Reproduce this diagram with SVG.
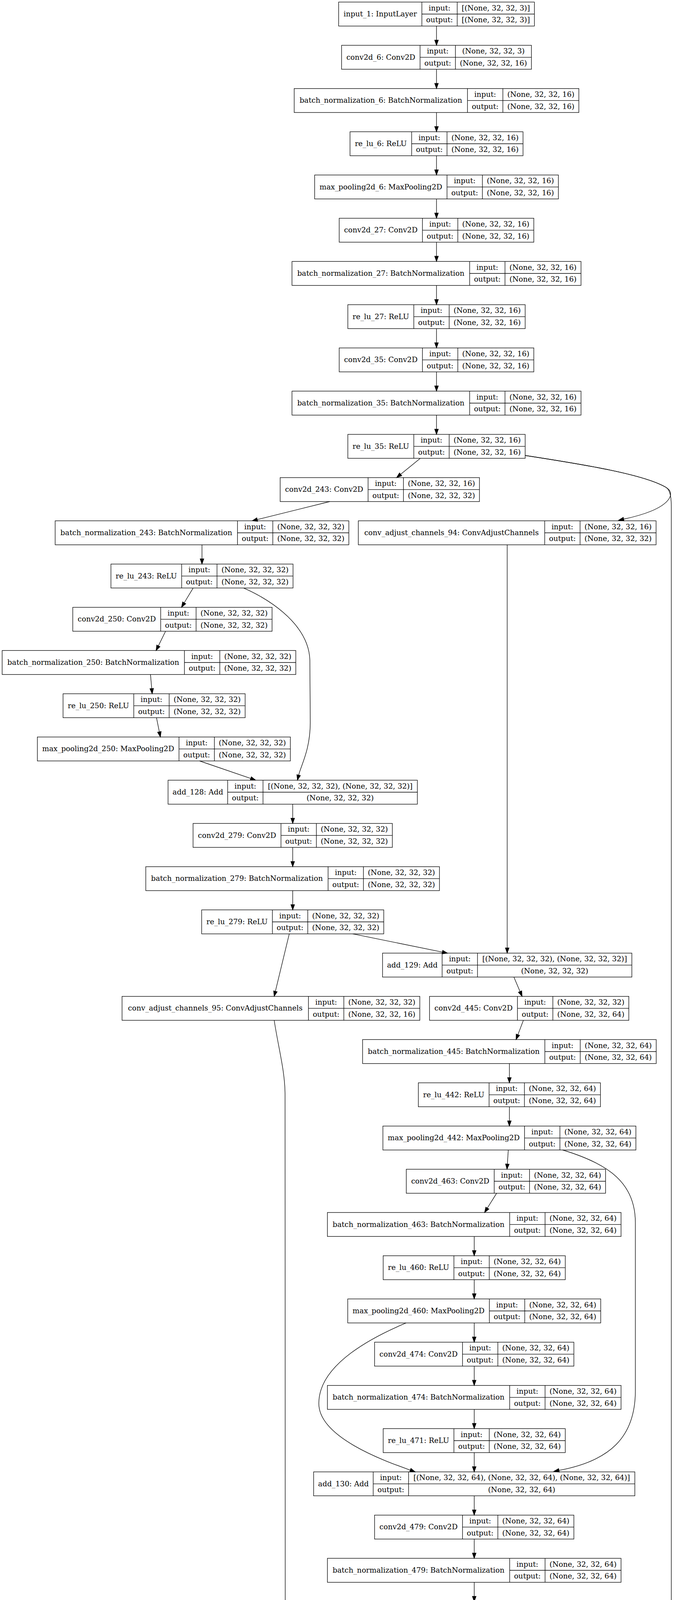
<svg xmlns="http://www.w3.org/2000/svg" width="1730" height="5496" viewBox="0 0 1730 5496">
<style>
.n rect{fill:none;stroke:#000;stroke-width:1.33}
.n line{stroke:#000;stroke-width:1.33}
text{font-family:"DejaVu Serif","Liberation Serif",serif;font-size:18.67px;text-anchor:middle;fill:#000}
.e path{fill:none;stroke:#000;stroke-width:1.33;marker-end:url(#a)}
</style>
<defs>
<marker id="a" markerUnits="userSpaceOnUse" markerWidth="16" markerHeight="12" viewBox="0 -6 16 12" refX="0" refY="0" orient="auto" overflow="visible">
<path d="M0,-4.67 L13.33,0 L0,4.67 Z" fill="#000" stroke="#000" stroke-width="1.33"/>
</marker>
</defs>
<rect x="0" y="0" width="1730" height="5496" fill="#fff"/>

<g id="input_1" class="n" transform="translate(0,5.33)"><rect x="866.6" y="0" width="501" height="61.33"/><line x1="1079.6" y1="0" x2="1079.6" y2="61.33"/><line x1="1170.1" y1="0" x2="1170.1" y2="61.33"/><line x1="1079.6" y1="30.67" x2="1367.6" y2="30.67"/><text x="973.1" y="36.67">input_1: InputLayer</text><text x="1124.85" y="21.33">input:</text><text x="1124.85" y="52">output:</text><text x="1268.85" y="21.33">[(None, 32, 32, 3)]</text><text x="1268.85" y="52">[(None, 32, 32, 3)]</text></g>

<g id="conv2d_6" class="n" transform="translate(0,116)"><rect x="874.2" y="0" width="485.8" height="61.33"/><line x1="1075" y1="0" x2="1075" y2="61.33"/><line x1="1165.5" y1="0" x2="1165.5" y2="61.33"/><line x1="1075" y1="30.67" x2="1360" y2="30.67"/><text x="974.6" y="36.67">conv2d_6: Conv2D</text><text x="1120.25" y="21.33">input:</text><text x="1120.25" y="52">output:</text><text x="1262.75" y="21.33">(None, 32, 32, 3)</text><text x="1262.75" y="52">(None, 32, 32, 16)</text></g>

<g id="batch_normalization_6" class="n" transform="translate(0,226.67)"><rect x="752.9" y="0" width="728.5" height="61.33"/><line x1="1196.4" y1="0" x2="1196.4" y2="61.33"/><line x1="1286.9" y1="0" x2="1286.9" y2="61.33"/><line x1="1196.4" y1="30.67" x2="1481.4" y2="30.67"/><text x="974.65" y="36.67">batch_normalization_6: BatchNormalization</text><text x="1241.65" y="21.33">input:</text><text x="1241.65" y="52">output:</text><text x="1384.15" y="21.33">(None, 32, 32, 16)</text><text x="1384.15" y="52">(None, 32, 32, 16)</text></g>

<g id="re_lu_6" class="n" transform="translate(0,337.33)"><rect x="895.7" y="0" width="442.8" height="61.33"/><line x1="1053.5" y1="0" x2="1053.5" y2="61.33"/><line x1="1144" y1="0" x2="1144" y2="61.33"/><line x1="1053.5" y1="30.67" x2="1338.5" y2="30.67"/><text x="974.6" y="36.67">re_lu_6: ReLU</text><text x="1098.75" y="21.33">input:</text><text x="1098.75" y="52">output:</text><text x="1241.25" y="21.33">(None, 32, 32, 16)</text><text x="1241.25" y="52">(None, 32, 32, 16)</text></g>

<g id="max_pooling2d_6" class="n" transform="translate(0,448)"><rect x="805.3" y="0" width="623.7" height="61.33"/><line x1="1144" y1="0" x2="1144" y2="61.33"/><line x1="1234.5" y1="0" x2="1234.5" y2="61.33"/><line x1="1144" y1="30.67" x2="1429" y2="30.67"/><text x="974.65" y="36.67">max_pooling2d_6: MaxPooling2D</text><text x="1189.25" y="21.33">input:</text><text x="1189.25" y="52">output:</text><text x="1331.75" y="21.33">(None, 32, 32, 16)</text><text x="1331.75" y="52">(None, 32, 32, 16)</text></g>

<g id="conv2d_27" class="n" transform="translate(0,558.67)"><rect x="868.1" y="0" width="498" height="61.33"/><line x1="1081.1" y1="0" x2="1081.1" y2="61.33"/><line x1="1171.6" y1="0" x2="1171.6" y2="61.33"/><line x1="1081.1" y1="30.67" x2="1366.1" y2="30.67"/><text x="974.6" y="36.67">conv2d_27: Conv2D</text><text x="1126.35" y="21.33">input:</text><text x="1126.35" y="52">output:</text><text x="1268.85" y="21.33">(None, 32, 32, 16)</text><text x="1268.85" y="52">(None, 32, 32, 16)</text></g>

<g id="batch_normalization_27" class="n" transform="translate(0,669.33)"><rect x="747.3" y="0" width="739.6" height="61.33"/><line x1="1201.9" y1="0" x2="1201.9" y2="61.33"/><line x1="1292.4" y1="0" x2="1292.4" y2="61.33"/><line x1="1201.9" y1="30.67" x2="1486.9" y2="30.67"/><text x="974.6" y="36.67">batch_normalization_27: BatchNormalization</text><text x="1247.15" y="21.33">input:</text><text x="1247.15" y="52">output:</text><text x="1389.65" y="21.33">(None, 32, 32, 16)</text><text x="1389.65" y="52">(None, 32, 32, 16)</text></g>

<g id="re_lu_27" class="n" transform="translate(0,780)"><rect x="890.2" y="0" width="453.8" height="61.33"/><line x1="1059" y1="0" x2="1059" y2="61.33"/><line x1="1149.5" y1="0" x2="1149.5" y2="61.33"/><line x1="1059" y1="30.67" x2="1344" y2="30.67"/><text x="974.6" y="36.67">re_lu_27: ReLU</text><text x="1104.25" y="21.33">input:</text><text x="1104.25" y="52">output:</text><text x="1246.75" y="21.33">(None, 32, 32, 16)</text><text x="1246.75" y="52">(None, 32, 32, 16)</text></g>

<g id="conv2d_35" class="n" transform="translate(0,890.67)"><rect x="868.1" y="0" width="498" height="61.33"/><line x1="1081.1" y1="0" x2="1081.1" y2="61.33"/><line x1="1171.6" y1="0" x2="1171.6" y2="61.33"/><line x1="1081.1" y1="30.67" x2="1366.1" y2="30.67"/><text x="974.6" y="36.67">conv2d_35: Conv2D</text><text x="1126.35" y="21.33">input:</text><text x="1126.35" y="52">output:</text><text x="1268.85" y="21.33">(None, 32, 32, 16)</text><text x="1268.85" y="52">(None, 32, 32, 16)</text></g>

<g id="batch_normalization_35" class="n" transform="translate(0,1001.33)"><rect x="747.3" y="0" width="739.6" height="61.33"/><line x1="1201.9" y1="0" x2="1201.9" y2="61.33"/><line x1="1292.4" y1="0" x2="1292.4" y2="61.33"/><line x1="1201.9" y1="30.67" x2="1486.9" y2="30.67"/><text x="974.6" y="36.67">batch_normalization_35: BatchNormalization</text><text x="1247.15" y="21.33">input:</text><text x="1247.15" y="52">output:</text><text x="1389.65" y="21.33">(None, 32, 32, 16)</text><text x="1389.65" y="52">(None, 32, 32, 16)</text></g>

<g id="re_lu_35" class="n" transform="translate(0,1112)"><rect x="890.2" y="0" width="453.8" height="61.33"/><line x1="1059" y1="0" x2="1059" y2="61.33"/><line x1="1149.5" y1="0" x2="1149.5" y2="61.33"/><line x1="1059" y1="30.67" x2="1344" y2="30.67"/><text x="974.6" y="36.67">re_lu_35: ReLU</text><text x="1104.25" y="21.33">input:</text><text x="1104.25" y="52">output:</text><text x="1246.75" y="21.33">(None, 32, 32, 16)</text><text x="1246.75" y="52">(None, 32, 32, 16)</text></g>

<g id="conv2d_243" class="n" transform="translate(0,1222.67)"><rect x="717" y="0" width="510" height="61.33"/><line x1="942" y1="0" x2="942" y2="61.33"/><line x1="1032.5" y1="0" x2="1032.5" y2="61.33"/><line x1="942" y1="30.67" x2="1227" y2="30.67"/><text x="829.5" y="36.67">conv2d_243: Conv2D</text><text x="987.25" y="21.33">input:</text><text x="987.25" y="52">output:</text><text x="1129.75" y="21.33">(None, 32, 32, 16)</text><text x="1129.75" y="52">(None, 32, 32, 32)</text></g>

<g id="batch_normalization_243" class="n" transform="translate(0,1333.33)"><rect x="141.2" y="0" width="751.5" height="61.33"/><line x1="607.7" y1="0" x2="607.7" y2="61.33"/><line x1="698.2" y1="0" x2="698.2" y2="61.33"/><line x1="607.7" y1="30.67" x2="892.7" y2="30.67"/><text x="374.45" y="36.67">batch_normalization_243: BatchNormalization</text><text x="652.95" y="21.33">input:</text><text x="652.95" y="52">output:</text><text x="795.45" y="21.33">(None, 32, 32, 32)</text><text x="795.45" y="52">(None, 32, 32, 32)</text></g>

<g id="conv_adjust_channels_94" class="n" transform="translate(0,1333.33)"><rect x="917" y="0" width="762" height="61.33"/><line x1="1394" y1="0" x2="1394" y2="61.33"/><line x1="1484.5" y1="0" x2="1484.5" y2="61.33"/><line x1="1394" y1="30.67" x2="1679" y2="30.67"/><text x="1155.5" y="36.67">conv_adjust_channels_94: ConvAdjustChannels</text><text x="1439.25" y="21.33">input:</text><text x="1439.25" y="52">output:</text><text x="1581.75" y="21.33">(None, 32, 32, 16)</text><text x="1581.75" y="52">(None, 32, 32, 32)</text></g>

<g id="re_lu_243" class="n" transform="translate(0,1444)"><rect x="283.9" y="0" width="466" height="61.33"/><line x1="464.9" y1="0" x2="464.9" y2="61.33"/><line x1="555.4" y1="0" x2="555.4" y2="61.33"/><line x1="464.9" y1="30.67" x2="749.9" y2="30.67"/><text x="374.4" y="36.67">re_lu_243: ReLU</text><text x="510.15" y="21.33">input:</text><text x="510.15" y="52">output:</text><text x="652.65" y="21.33">(None, 32, 32, 32)</text><text x="652.65" y="52">(None, 32, 32, 32)</text></g>

<g id="conv2d_250" class="n" transform="translate(0,1554.67)"><rect x="186.3" y="0" width="510" height="61.33"/><line x1="411.3" y1="0" x2="411.3" y2="61.33"/><line x1="501.8" y1="0" x2="501.8" y2="61.33"/><line x1="411.3" y1="30.67" x2="696.3" y2="30.67"/><text x="298.8" y="36.67">conv2d_250: Conv2D</text><text x="456.55" y="21.33">input:</text><text x="456.55" y="52">output:</text><text x="599.05" y="21.33">(None, 32, 32, 32)</text><text x="599.05" y="52">(None, 32, 32, 32)</text></g>

<g id="batch_normalization_250" class="n" transform="translate(0,1665.33)"><rect x="5.5" y="0" width="751.5" height="61.33"/><line x1="472" y1="0" x2="472" y2="61.33"/><line x1="562.5" y1="0" x2="562.5" y2="61.33"/><line x1="472" y1="30.67" x2="757" y2="30.67"/><text x="238.75" y="36.67">batch_normalization_250: BatchNormalization</text><text x="517.25" y="21.33">input:</text><text x="517.25" y="52">output:</text><text x="659.75" y="21.33">(None, 32, 32, 32)</text><text x="659.75" y="52">(None, 32, 32, 32)</text></g>

<g id="re_lu_250" class="n" transform="translate(0,1776)"><rect x="161.4" y="0" width="466" height="61.33"/><line x1="342.4" y1="0" x2="342.4" y2="61.33"/><line x1="432.9" y1="0" x2="432.9" y2="61.33"/><line x1="342.4" y1="30.67" x2="627.4" y2="30.67"/><text x="251.9" y="36.67">re_lu_250: ReLU</text><text x="387.65" y="21.33">input:</text><text x="387.65" y="52">output:</text><text x="530.15" y="21.33">(None, 32, 32, 32)</text><text x="530.15" y="52">(None, 32, 32, 32)</text></g>

<g id="max_pooling2d_250" class="n" transform="translate(0,1886.67)"><rect x="95.6" y="0" width="647.5" height="61.33"/><line x1="458.1" y1="0" x2="458.1" y2="61.33"/><line x1="548.6" y1="0" x2="548.6" y2="61.33"/><line x1="458.1" y1="30.67" x2="743.1" y2="30.67"/><text x="276.85" y="36.67">max_pooling2d_250: MaxPooling2D</text><text x="503.35" y="21.33">input:</text><text x="503.35" y="52">output:</text><text x="645.85" y="21.33">(None, 32, 32, 32)</text><text x="645.85" y="52">(None, 32, 32, 32)</text></g>

<g id="add_128" class="n" transform="translate(0,1997.33)"><rect x="430.1" y="0" width="638" height="61.33"/><line x1="582.6" y1="0" x2="582.6" y2="61.33"/><line x1="673.1" y1="0" x2="673.1" y2="61.33"/><line x1="582.6" y1="30.67" x2="1068.1" y2="30.67"/><text x="506.35" y="36.67">add_128: Add</text><text x="627.85" y="21.33">input:</text><text x="627.85" y="52">output:</text><text x="870.6" y="21.33">[(None, 32, 32, 32), (None, 32, 32, 32)]</text><text x="870.6" y="52">(None, 32, 32, 32)</text></g>

<g id="conv2d_279" class="n" transform="translate(0,2108)"><rect x="494.1" y="0" width="510" height="61.33"/><line x1="719.1" y1="0" x2="719.1" y2="61.33"/><line x1="809.6" y1="0" x2="809.6" y2="61.33"/><line x1="719.1" y1="30.67" x2="1004.1" y2="30.67"/><text x="606.6" y="36.67">conv2d_279: Conv2D</text><text x="764.35" y="21.33">input:</text><text x="764.35" y="52">output:</text><text x="906.85" y="21.33">(None, 32, 32, 32)</text><text x="906.85" y="52">(None, 32, 32, 32)</text></g>

<g id="batch_normalization_279" class="n" transform="translate(0,2218.67)"><rect x="373.1" y="0" width="751.5" height="61.33"/><line x1="839.6" y1="0" x2="839.6" y2="61.33"/><line x1="930.1" y1="0" x2="930.1" y2="61.33"/><line x1="839.6" y1="30.67" x2="1124.6" y2="30.67"/><text x="606.35" y="36.67">batch_normalization_279: BatchNormalization</text><text x="884.85" y="21.33">input:</text><text x="884.85" y="52">output:</text><text x="1027.35" y="21.33">(None, 32, 32, 32)</text><text x="1027.35" y="52">(None, 32, 32, 32)</text></g>

<g id="re_lu_279" class="n" transform="translate(0,2329.33)"><rect x="516.1" y="0" width="466" height="61.33"/><line x1="697.1" y1="0" x2="697.1" y2="61.33"/><line x1="787.6" y1="0" x2="787.6" y2="61.33"/><line x1="697.1" y1="30.67" x2="982.1" y2="30.67"/><text x="606.6" y="36.67">re_lu_279: ReLU</text><text x="742.35" y="21.33">input:</text><text x="742.35" y="52">output:</text><text x="884.85" y="21.33">(None, 32, 32, 32)</text><text x="884.85" y="52">(None, 32, 32, 32)</text></g>

<g id="add_129" class="n" transform="translate(0,2440)"><rect x="979" y="0" width="638" height="61.33"/><line x1="1131.5" y1="0" x2="1131.5" y2="61.33"/><line x1="1222" y1="0" x2="1222" y2="61.33"/><line x1="1131.5" y1="30.67" x2="1617" y2="30.67"/><text x="1055.25" y="36.67">add_129: Add</text><text x="1176.75" y="21.33">input:</text><text x="1176.75" y="52">output:</text><text x="1419.5" y="21.33">[(None, 32, 32, 32), (None, 32, 32, 32)]</text><text x="1419.5" y="52">(None, 32, 32, 32)</text></g>

<g id="conv_adjust_channels_95" class="n" transform="translate(0,2550.67)"><rect x="312.4" y="0" width="762" height="61.33"/><line x1="789.4" y1="0" x2="789.4" y2="61.33"/><line x1="879.9" y1="0" x2="879.9" y2="61.33"/><line x1="789.4" y1="30.67" x2="1074.4" y2="30.67"/><text x="550.9" y="36.67">conv_adjust_channels_95: ConvAdjustChannels</text><text x="834.65" y="21.33">input:</text><text x="834.65" y="52">output:</text><text x="977.15" y="21.33">(None, 32, 32, 32)</text><text x="977.15" y="52">(None, 32, 32, 16)</text></g>

<g id="conv2d_445" class="n" transform="translate(0,2550.67)"><rect x="1099.3" y="0" width="510" height="61.33"/><line x1="1324.3" y1="0" x2="1324.3" y2="61.33"/><line x1="1414.8" y1="0" x2="1414.8" y2="61.33"/><line x1="1324.3" y1="30.67" x2="1609.3" y2="30.67"/><text x="1211.8" y="36.67">conv2d_445: Conv2D</text><text x="1369.55" y="21.33">input:</text><text x="1369.55" y="52">output:</text><text x="1512.05" y="21.33">(None, 32, 32, 32)</text><text x="1512.05" y="52">(None, 32, 32, 64)</text></g>

<g id="batch_normalization_445" class="n" transform="translate(0,2661.33)"><rect x="927.9" y="0" width="751.5" height="61.33"/><line x1="1394.4" y1="0" x2="1394.4" y2="61.33"/><line x1="1484.9" y1="0" x2="1484.9" y2="61.33"/><line x1="1394.4" y1="30.67" x2="1679.4" y2="30.67"/><text x="1161.15" y="36.67">batch_normalization_445: BatchNormalization</text><text x="1439.65" y="21.33">input:</text><text x="1439.65" y="52">output:</text><text x="1582.15" y="21.33">(None, 32, 32, 64)</text><text x="1582.15" y="52">(None, 32, 32, 64)</text></g>

<g id="re_lu_442" class="n" transform="translate(0,2772)"><rect x="1070.6" y="0" width="466" height="61.33"/><line x1="1251.6" y1="0" x2="1251.6" y2="61.33"/><line x1="1342.1" y1="0" x2="1342.1" y2="61.33"/><line x1="1251.6" y1="30.67" x2="1536.6" y2="30.67"/><text x="1161.1" y="36.67">re_lu_442: ReLU</text><text x="1296.85" y="21.33">input:</text><text x="1296.85" y="52">output:</text><text x="1439.35" y="21.33">(None, 32, 32, 64)</text><text x="1439.35" y="52">(None, 32, 32, 64)</text></g>

<g id="max_pooling2d_442" class="n" transform="translate(0,2882.67)"><rect x="979.9" y="0" width="647.5" height="61.33"/><line x1="1342.4" y1="0" x2="1342.4" y2="61.33"/><line x1="1432.9" y1="0" x2="1432.9" y2="61.33"/><line x1="1342.4" y1="30.67" x2="1627.4" y2="30.67"/><text x="1161.15" y="36.67">max_pooling2d_442: MaxPooling2D</text><text x="1387.65" y="21.33">input:</text><text x="1387.65" y="52">output:</text><text x="1530.15" y="21.33">(None, 32, 32, 64)</text><text x="1530.15" y="52">(None, 32, 32, 64)</text></g>

<g id="conv2d_463" class="n" transform="translate(0,2993.33)"><rect x="1039.7" y="0" width="510" height="61.33"/><line x1="1264.7" y1="0" x2="1264.7" y2="61.33"/><line x1="1355.2" y1="0" x2="1355.2" y2="61.33"/><line x1="1264.7" y1="30.67" x2="1549.7" y2="30.67"/><text x="1152.2" y="36.67">conv2d_463: Conv2D</text><text x="1309.95" y="21.33">input:</text><text x="1309.95" y="52">output:</text><text x="1452.45" y="21.33">(None, 32, 32, 64)</text><text x="1452.45" y="52">(None, 32, 32, 64)</text></g>

<g id="batch_normalization_463" class="n" transform="translate(0,3104)"><rect x="837.9" y="0" width="751.5" height="61.33"/><line x1="1304.4" y1="0" x2="1304.4" y2="61.33"/><line x1="1394.9" y1="0" x2="1394.9" y2="61.33"/><line x1="1304.4" y1="30.67" x2="1589.4" y2="30.67"/><text x="1071.15" y="36.67">batch_normalization_463: BatchNormalization</text><text x="1349.65" y="21.33">input:</text><text x="1349.65" y="52">output:</text><text x="1492.15" y="21.33">(None, 32, 32, 64)</text><text x="1492.15" y="52">(None, 32, 32, 64)</text></g>

<g id="re_lu_460" class="n" transform="translate(0,3214.67)"><rect x="980.6" y="0" width="466" height="61.33"/><line x1="1161.6" y1="0" x2="1161.6" y2="61.33"/><line x1="1252.1" y1="0" x2="1252.1" y2="61.33"/><line x1="1161.6" y1="30.67" x2="1446.6" y2="30.67"/><text x="1071.1" y="36.67">re_lu_460: ReLU</text><text x="1206.85" y="21.33">input:</text><text x="1206.85" y="52">output:</text><text x="1349.35" y="21.33">(None, 32, 32, 64)</text><text x="1349.35" y="52">(None, 32, 32, 64)</text></g>

<g id="max_pooling2d_460" class="n" transform="translate(0,3325.33)"><rect x="889.9" y="0" width="647.5" height="61.33"/><line x1="1252.4" y1="0" x2="1252.4" y2="61.33"/><line x1="1342.9" y1="0" x2="1342.9" y2="61.33"/><line x1="1252.4" y1="30.67" x2="1537.4" y2="30.67"/><text x="1071.15" y="36.67">max_pooling2d_460: MaxPooling2D</text><text x="1297.65" y="21.33">input:</text><text x="1297.65" y="52">output:</text><text x="1440.15" y="21.33">(None, 32, 32, 64)</text><text x="1440.15" y="52">(None, 32, 32, 64)</text></g>

<g id="conv2d_474" class="n" transform="translate(0,3436)"><rect x="958.6" y="0" width="510" height="61.33"/><line x1="1183.6" y1="0" x2="1183.6" y2="61.33"/><line x1="1274.1" y1="0" x2="1274.1" y2="61.33"/><line x1="1183.6" y1="30.67" x2="1468.6" y2="30.67"/><text x="1071.1" y="36.67">conv2d_474: Conv2D</text><text x="1228.85" y="21.33">input:</text><text x="1228.85" y="52">output:</text><text x="1371.35" y="21.33">(None, 32, 32, 64)</text><text x="1371.35" y="52">(None, 32, 32, 64)</text></g>

<g id="batch_normalization_474" class="n" transform="translate(0,3546.67)"><rect x="837.9" y="0" width="751.5" height="61.33"/><line x1="1304.4" y1="0" x2="1304.4" y2="61.33"/><line x1="1394.9" y1="0" x2="1394.9" y2="61.33"/><line x1="1304.4" y1="30.67" x2="1589.4" y2="30.67"/><text x="1071.15" y="36.67">batch_normalization_474: BatchNormalization</text><text x="1349.65" y="21.33">input:</text><text x="1349.65" y="52">output:</text><text x="1492.15" y="21.33">(None, 32, 32, 64)</text><text x="1492.15" y="52">(None, 32, 32, 64)</text></g>

<g id="re_lu_471" class="n" transform="translate(0,3657.33)"><rect x="980.6" y="0" width="466" height="61.33"/><line x1="1161.6" y1="0" x2="1161.6" y2="61.33"/><line x1="1252.1" y1="0" x2="1252.1" y2="61.33"/><line x1="1161.6" y1="30.67" x2="1446.6" y2="30.67"/><text x="1071.1" y="36.67">re_lu_471: ReLU</text><text x="1206.85" y="21.33">input:</text><text x="1206.85" y="52">output:</text><text x="1349.35" y="21.33">(None, 32, 32, 64)</text><text x="1349.35" y="52">(None, 32, 32, 64)</text></g>

<g id="add_130" class="n" transform="translate(0,3768)"><rect x="802.6" y="0" width="822" height="61.33"/><line x1="955.1" y1="0" x2="955.1" y2="61.33"/><line x1="1045.6" y1="0" x2="1045.6" y2="61.33"/><line x1="955.1" y1="30.67" x2="1624.6" y2="30.67"/><text x="878.85" y="36.67">add_130: Add</text><text x="1000.35" y="21.33">input:</text><text x="1000.35" y="52">output:</text><text x="1335.1" y="21.33">[(None, 32, 32, 64), (None, 32, 32, 64), (None, 32, 32, 64)]</text><text x="1335.1" y="52">(None, 32, 32, 64)</text></g>

<g id="conv2d_479" class="n" transform="translate(0,3878.67)"><rect x="958.6" y="0" width="510" height="61.33"/><line x1="1183.6" y1="0" x2="1183.6" y2="61.33"/><line x1="1274.1" y1="0" x2="1274.1" y2="61.33"/><line x1="1183.6" y1="30.67" x2="1468.6" y2="30.67"/><text x="1071.1" y="36.67">conv2d_479: Conv2D</text><text x="1228.85" y="21.33">input:</text><text x="1228.85" y="52">output:</text><text x="1371.35" y="21.33">(None, 32, 32, 64)</text><text x="1371.35" y="52">(None, 32, 32, 64)</text></g>

<g id="batch_normalization_479" class="n" transform="translate(0,3989.33)"><rect x="837.9" y="0" width="751.5" height="61.33"/><line x1="1304.4" y1="0" x2="1304.4" y2="61.33"/><line x1="1394.9" y1="0" x2="1394.9" y2="61.33"/><line x1="1304.4" y1="30.67" x2="1589.4" y2="30.67"/><text x="1071.15" y="36.67">batch_normalization_479: BatchNormalization</text><text x="1349.65" y="21.33">input:</text><text x="1349.65" y="52">output:</text><text x="1492.15" y="21.33">(None, 32, 32, 64)</text><text x="1492.15" y="52">(None, 32, 32, 64)</text></g>

<g id="re_lu_476" class="n" transform="translate(0,4100)"><rect x="980.6" y="0" width="466" height="61.33"/><line x1="1161.6" y1="0" x2="1161.6" y2="61.33"/><line x1="1252.1" y1="0" x2="1252.1" y2="61.33"/><line x1="1161.6" y1="30.67" x2="1446.6" y2="30.67"/><text x="1071.1" y="36.67">re_lu_476: ReLU</text><text x="1206.85" y="21.33">input:</text><text x="1206.85" y="52">output:</text><text x="1349.35" y="21.33">(None, 32, 32, 64)</text><text x="1349.35" y="52">(None, 32, 32, 64)</text></g>

<g id="max_pooling2d_476" class="n" transform="translate(0,4210.67)"><rect x="889.9" y="0" width="647.5" height="61.33"/><line x1="1252.4" y1="0" x2="1252.4" y2="61.33"/><line x1="1342.9" y1="0" x2="1342.9" y2="61.33"/><line x1="1252.4" y1="30.67" x2="1537.4" y2="30.67"/><text x="1071.15" y="36.67">max_pooling2d_476: MaxPooling2D</text><text x="1297.65" y="21.33">input:</text><text x="1297.65" y="52">output:</text><text x="1440.15" y="21.33">(None, 32, 32, 64)</text><text x="1440.15" y="52">(None, 32, 32, 64)</text></g>

<g id="conv_adjust_channels_96" class="n" transform="translate(0,4321.33)"><rect x="832.6" y="0" width="762" height="61.33"/><line x1="1309.6" y1="0" x2="1309.6" y2="61.33"/><line x1="1400.1" y1="0" x2="1400.1" y2="61.33"/><line x1="1309.6" y1="30.67" x2="1594.6" y2="30.67"/><text x="1071.1" y="36.67">conv_adjust_channels_96: ConvAdjustChannels</text><text x="1354.85" y="21.33">input:</text><text x="1354.85" y="52">output:</text><text x="1497.35" y="21.33">(None, 32, 32, 64)</text><text x="1497.35" y="52">(None, 32, 32, 16)</text></g>

<g id="add_131" class="n" transform="translate(0,4432)"><rect x="802.6" y="0" width="822" height="61.33"/><line x1="955.1" y1="0" x2="955.1" y2="61.33"/><line x1="1045.6" y1="0" x2="1045.6" y2="61.33"/><line x1="955.1" y1="30.67" x2="1624.6" y2="30.67"/><text x="878.85" y="36.67">add_131: Add</text><text x="1000.35" y="21.33">input:</text><text x="1000.35" y="52">output:</text><text x="1335.1" y="21.33">[(None, 32, 32, 16), (None, 32, 32, 16), (None, 32, 32, 16)]</text><text x="1335.1" y="52">(None, 32, 32, 16)</text></g>

<g id="conv2d_163" class="n" transform="translate(0,4542.67)"><rect x="958.6" y="0" width="510" height="61.33"/><line x1="1183.6" y1="0" x2="1183.6" y2="61.33"/><line x1="1274.1" y1="0" x2="1274.1" y2="61.33"/><line x1="1183.6" y1="30.67" x2="1468.6" y2="30.67"/><text x="1071.1" y="36.67">conv2d_163: Conv2D</text><text x="1228.85" y="21.33">input:</text><text x="1228.85" y="52">output:</text><text x="1371.35" y="21.33">(None, 32, 32, 16)</text><text x="1371.35" y="52">(None, 32, 32, 32)</text></g>

<g id="batch_normalization_163" class="n" transform="translate(0,4653.33)"><rect x="837.9" y="0" width="751.5" height="61.33"/><line x1="1304.4" y1="0" x2="1304.4" y2="61.33"/><line x1="1394.9" y1="0" x2="1394.9" y2="61.33"/><line x1="1304.4" y1="30.67" x2="1589.4" y2="30.67"/><text x="1071.15" y="36.67">batch_normalization_163: BatchNormalization</text><text x="1349.65" y="21.33">input:</text><text x="1349.65" y="52">output:</text><text x="1492.15" y="21.33">(None, 32, 32, 32)</text><text x="1492.15" y="52">(None, 32, 32, 32)</text></g>

<g id="re_lu_163" class="n" transform="translate(0,4764)"><rect x="980.6" y="0" width="466" height="61.33"/><line x1="1161.6" y1="0" x2="1161.6" y2="61.33"/><line x1="1252.1" y1="0" x2="1252.1" y2="61.33"/><line x1="1161.6" y1="30.67" x2="1446.6" y2="30.67"/><text x="1071.1" y="36.67">re_lu_163: ReLU</text><text x="1206.85" y="21.33">input:</text><text x="1206.85" y="52">output:</text><text x="1349.35" y="21.33">(None, 32, 32, 32)</text><text x="1349.35" y="52">(None, 32, 32, 32)</text></g>

<g id="conv2d_199" class="n" transform="translate(0,4874.67)"><rect x="958.6" y="0" width="510" height="61.33"/><line x1="1183.6" y1="0" x2="1183.6" y2="61.33"/><line x1="1274.1" y1="0" x2="1274.1" y2="61.33"/><line x1="1183.6" y1="30.67" x2="1468.6" y2="30.67"/><text x="1071.1" y="36.67">conv2d_199: Conv2D</text><text x="1228.85" y="21.33">input:</text><text x="1228.85" y="52">output:</text><text x="1371.35" y="21.33">(None, 32, 32, 32)</text><text x="1371.35" y="52">(None, 32, 32, 32)</text></g>

<g id="batch_normalization_199" class="n" transform="translate(0,4985.33)"><rect x="837.9" y="0" width="751.5" height="61.33"/><line x1="1304.4" y1="0" x2="1304.4" y2="61.33"/><line x1="1394.9" y1="0" x2="1394.9" y2="61.33"/><line x1="1304.4" y1="30.67" x2="1589.4" y2="30.67"/><text x="1071.15" y="36.67">batch_normalization_199: BatchNormalization</text><text x="1349.65" y="21.33">input:</text><text x="1349.65" y="52">output:</text><text x="1492.15" y="21.33">(None, 32, 32, 32)</text><text x="1492.15" y="52">(None, 32, 32, 32)</text></g>

<g id="re_lu_199" class="n" transform="translate(0,5096)"><rect x="980.6" y="0" width="466" height="61.33"/><line x1="1161.6" y1="0" x2="1161.6" y2="61.33"/><line x1="1252.1" y1="0" x2="1252.1" y2="61.33"/><line x1="1161.6" y1="30.67" x2="1446.6" y2="30.67"/><text x="1071.1" y="36.67">re_lu_199: ReLU</text><text x="1206.85" y="21.33">input:</text><text x="1206.85" y="52">output:</text><text x="1349.35" y="21.33">(None, 32, 32, 32)</text><text x="1349.35" y="52">(None, 32, 32, 32)</text></g>

<g id="flatten_213" class="n" transform="translate(0,5206.67)"><rect x="965" y="0" width="497.3" height="61.33"/><line x1="1176.8" y1="0" x2="1176.8" y2="61.33"/><line x1="1267.3" y1="0" x2="1267.3" y2="61.33"/><line x1="1176.8" y1="30.67" x2="1462.3" y2="30.67"/><text x="1070.9" y="36.67">flatten_213: Flatten</text><text x="1222.05" y="21.33">input:</text><text x="1222.05" y="52">output:</text><text x="1364.8" y="21.33">(None, 32, 32, 32)</text><text x="1364.8" y="52">(None, 32768)</text></g>

<g id="dense_426" class="n" transform="translate(0,5317.33)"><rect x="991.6" y="0" width="444" height="61.33"/><line x1="1186.1" y1="0" x2="1186.1" y2="61.33"/><line x1="1276.6" y1="0" x2="1276.6" y2="61.33"/><line x1="1186.1" y1="30.67" x2="1435.6" y2="30.67"/><text x="1088.85" y="36.67">dense_426: Dense</text><text x="1231.35" y="21.33">input:</text><text x="1231.35" y="52">output:</text><text x="1356.1" y="21.33">(None, 32768)</text><text x="1356.1" y="52">(None, 256)</text></g>

<g id="dense_427" class="n" transform="translate(0,5428)"><rect x="1003.8" y="0" width="419.6" height="61.33"/><line x1="1198.3" y1="0" x2="1198.3" y2="61.33"/><line x1="1288.8" y1="0" x2="1288.8" y2="61.33"/><line x1="1198.3" y1="30.67" x2="1423.4" y2="30.67"/><text x="1101.05" y="36.67">dense_427: Dense</text><text x="1243.55" y="21.33">input:</text><text x="1243.55" y="52">output:</text><text x="1356.1" y="21.33">(None, 256)</text><text x="1356.1" y="52">(None, 10)</text></g>

<g id="connectors" class="e">
<path d="M1117.1,66.67 L1117.1,102.67"/>
<path d="M1117.1,177.33 L1117.1,213.33"/>
<path d="M1117.1,288 L1117.1,324"/>
<path d="M1117.1,398.67 L1117.1,434.67"/>
<path d="M1117.1,509.33 L1117.1,545.33"/>
<path d="M1117.1,620 L1117.1,656"/>
<path d="M1117.1,730.67 L1117.1,766.67"/>
<path d="M1117.1,841.33 L1117.1,877.33"/>
<path d="M1117.1,952 L1117.1,988"/>
<path d="M1117.1,1062.67 L1117.1,1098.67"/>
<path d="M1075.7,1173.33 L1025.3,1214.26"/>
<path d="M1344,1166 C1500,1190 1650,1215 1705,1248 C1730,1263 1712,1290 1665,1309 C1645,1317 1620,1324 1596,1329"/>
<path d="M1344,1166 C1500,1190 1650,1215 1705,1248 C1716,1256 1718,1275 1718,1300 L1718,4250 C1718,4330 1560,4400 1450.3,4428.7"/>
<path d="M844,1284 L658.34,1330.12"/>
<path d="M516.9,1394.67 L516.9,1430.67"/>
<path d="M1298,1394.67 L1298,2426.67"/>
<path d="M494.3,1505.33 L471.4,1543.26"/>
<path d="M623.4,1505.33 C670,1525 790,1590 793,1690 L794,1850 C794,1920 770,1960 764.3,1984.3"/>
<path d="M423.7,1616 L405.3,1653.37"/>
<path d="M385.1,1726.67 L388.3,1762.72"/>
<path d="M400.5,1837.33 L407.8,1873.6"/>
<path d="M510.8,1948 L641.7,1992.99"/>
<path d="M749.1,2058.67 L749.1,2094.67"/>
<path d="M749.1,2169.33 L749.1,2205.33"/>
<path d="M749.1,2280 L749.1,2316"/>
<path d="M902.5,2390.67 L1132.1,2437.34"/>
<path d="M740.3,2390.67 L704.8,2537.71"/>
<path d="M1315.1,2501.33 L1330.9,2538.4"/>
<path d="M1339.4,2612 L1325.4,2648.87"/>
<path d="M701.7,2612 C712,2680 729,2740 729.5,2800 L730,4250 C730,4330 800,4400 966.6,4429.6"/>
<path d="M1303.6,2722.67 L1303.6,2758.67"/>
<path d="M1303.6,2833.33 L1303.6,2869.33"/>
<path d="M1300.8,2944 L1298.4,2980"/>
<path d="M1439.8,2944 C1560,2980 1626,3030 1626,3130 L1626,3560 C1626,3680 1560,3740 1430.5,3764.1"/>
<path d="M1271,3054.67 L1247.2,3092.7"/>
<path d="M1213.6,3165.33 L1213.6,3201.33"/>
<path d="M1213.6,3276 L1213.6,3312"/>
<path d="M1213.6,3386.67 L1213.6,3422.67"/>
<path d="M1213.6,3497.33 L1213.6,3533.33"/>
<path d="M1213.6,3608 L1213.6,3644"/>
<path d="M1213.6,3718.67 L1213.6,3754.67"/>
<path d="M1039.3,3386.67 C960,3420 818,3490 816,3590 C812,3680 990,3742 1050,3763.5"/>
<path d="M1213.6,3829.33 L1213.6,3865.33"/>
<path d="M1213.6,3940 L1213.6,3976"/>
<path d="M1213.6,4050.67 L1213.6,4086.67"/>
<path d="M1213.6,4161.33 L1213.6,4197.33"/>
<path d="M1213.6,4272 L1213.6,4308"/>
<path d="M1213.6,4382.67 L1213.6,4418.67"/>
<path d="M1213.6,4493.33 L1213.6,4529.33"/>
<path d="M1213.6,4604 L1213.6,4640"/>
<path d="M1213.6,4714.67 L1213.6,4750.67"/>
<path d="M1213.6,4825.33 L1213.6,4861.33"/>
<path d="M1213.6,4936 L1213.6,4972"/>
<path d="M1213.6,5046.67 L1213.6,5082.67"/>
<path d="M1213.6,5157.33 L1213.6,5193.33"/>
<path d="M1213.6,5268 L1213.6,5304"/>
<path d="M1213.6,5378.67 L1213.6,5414.67"/>
</g>
</svg>
